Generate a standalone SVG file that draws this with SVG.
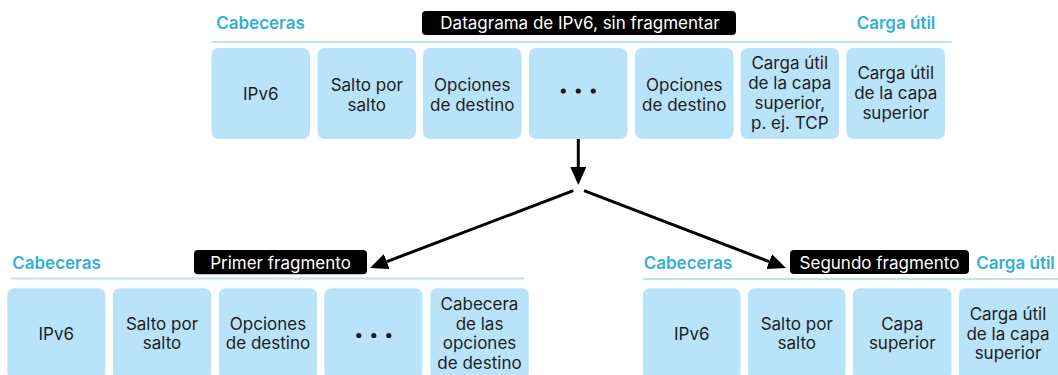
<svg xmlns="http://www.w3.org/2000/svg" width="1058" height="375" viewBox="0 0 1058 375">
<style>
.box{fill:#B9E3F9}
.rule{stroke:#B9E3F9;stroke-width:2;fill:none}
.t{font-family:Inter,"Liberation Sans",sans-serif;font-size:17px;fill:#1d1d1f;text-anchor:middle}
.hdr{font-family:Inter,"Liberation Sans",sans-serif;font-size:17px;font-weight:600;fill:#34AFD8;text-anchor:middle}
.lblbg{fill:#000}
.lbl{font-family:Inter,"Liberation Sans",sans-serif;font-size:17px;fill:#fff;text-anchor:middle}
.dot{fill:#1d1d1f}
.conn{stroke:#000;stroke-width:3;fill:none}
</style>
<defs>
<marker id="ah" markerUnits="userSpaceOnUse" viewBox="0 0 18 16" refX="0" refY="8" markerWidth="18" markerHeight="16" orient="auto">
<path d="M0,0 L18,8 L0,16 Z" fill="#000"/>
</marker>
</defs>

<g id="header-top">
<text class="hdr" x="260.5" y="29.3">Cabeceras</text>
<text class="hdr" x="896" y="29.3">Carga útil</text>
<line class="rule" x1="211" y1="42" x2="952" y2="42"/>
<rect class="lblbg" x="422" y="11" width="314" height="24" rx="4"/>
<text class="lbl" x="580" y="29.3">Datagrama de IPv6, sin fragmentar</text>
</g>

<g id="top-ipv6"><rect class="box" x="211.5" y="48" width="98.5" height="91" rx="7"/><text class="t" x="260.75" y="100">IPv6</text></g>
<g id="top-salto"><rect class="box" x="317.5" y="48" width="98.5" height="91" rx="7"/><text class="t" x="366.75" y="90.5">Salto por</text><text class="t" x="366.75" y="110.5">salto</text></g>
<g id="top-opciones1"><rect class="box" x="423" y="48" width="98.5" height="91" rx="7"/><text class="t" x="472.25" y="90.5">Opciones</text><text class="t" x="472.25" y="110.5">de destino</text></g>
<g id="top-dots"><rect class="box" x="529" y="48" width="98.5" height="91" rx="7"/><circle class="dot" cx="563.3" cy="91" r="2.6"/><circle class="dot" cx="578.3" cy="91" r="2.6"/><circle class="dot" cx="593.3" cy="91" r="2.6"/></g>
<g id="top-opciones2"><rect class="box" x="635" y="48" width="98.5" height="91" rx="7"/><text class="t" x="684.25" y="90.5">Opciones</text><text class="t" x="684.25" y="110.5">de destino</text></g>
<g id="top-carga-tcp"><rect class="box" x="740.5" y="48" width="98.5" height="91" rx="7"/><text class="t" x="789.75" y="68.5">Carga útil</text><text class="t" x="789.75" y="88.5">de la capa</text><text class="t" x="789.75" y="108.5">superior,</text><text class="t" x="789.75" y="128.5">p. ej. TCP</text></g>
<g id="top-carga"><rect class="box" x="846.5" y="48" width="98.5" height="91" rx="7"/><text class="t" x="895.75" y="79">Carga útil</text><text class="t" x="895.75" y="99">de la capa</text><text class="t" x="895.75" y="119">superior</text></g>

<g id="header-first">
<text class="hdr" x="56.5" y="269.3">Cabeceras</text>
<line class="rule" x1="11" y1="278.5" x2="524" y2="278.5"/>
<rect class="lblbg" x="194" y="250" width="173" height="24.3" rx="4"/>
<text class="lbl" x="280.5" y="268.5">Primer fragmento</text>
</g>

<g id="first-ipv6"><rect class="box" x="7.3" y="288.3" width="98" height="91" rx="7"/><text class="t" x="56.3" y="339.5">IPv6</text></g>
<g id="first-salto"><rect class="box" x="113" y="288.3" width="98" height="91" rx="7"/><text class="t" x="162" y="329.8">Salto por</text><text class="t" x="162" y="349.3">salto</text></g>
<g id="first-opciones"><rect class="box" x="219" y="288.3" width="98" height="91" rx="7"/><text class="t" x="268" y="329.8">Opciones</text><text class="t" x="268" y="349.3">de destino</text></g>
<g id="first-dots"><rect class="box" x="324.3" y="288.3" width="98" height="91" rx="7"/><circle class="dot" cx="358.8" cy="335.5" r="2.6"/><circle class="dot" cx="373.8" cy="335.5" r="2.6"/><circle class="dot" cx="388.8" cy="335.5" r="2.6"/></g>
<g id="first-cabecera"><rect class="box" x="430.3" y="288.3" width="98.5" height="91" rx="7"/><text class="t" x="479.5" y="310">Cabecera</text><text class="t" x="479.5" y="329.5">de las</text><text class="t" x="479.5" y="349">opciones</text><text class="t" x="479.5" y="368.5">de destino</text></g>

<g id="header-second">
<text class="hdr" x="688" y="269.3">Cabeceras</text>
<text class="hdr" x="1015.5" y="269.3">Carga útil</text>
<line class="rule" x1="643" y1="279" x2="1058" y2="279"/>
<rect class="lblbg" x="790" y="250" width="179" height="24" rx="4"/>
<text class="lbl" x="879.5" y="268.8">Segundo fragmento</text>
</g>

<g id="second-ipv6"><rect class="box" x="643" y="288.3" width="97.5" height="91" rx="7"/><text class="t" x="691.75" y="339.5">IPv6</text></g>
<g id="second-salto"><rect class="box" x="748" y="288.3" width="97.5" height="91" rx="7"/><text class="t" x="796.75" y="329.8">Salto por</text><text class="t" x="796.75" y="349.3">salto</text></g>
<g id="second-capa"><rect class="box" x="853" y="288.3" width="98.5" height="91" rx="7"/><text class="t" x="902.25" y="329.8">Capa</text><text class="t" x="902.25" y="349.3">superior</text></g>
<g id="second-carga"><rect class="box" x="959" y="288.3" width="110" height="91" rx="7"/><text class="t" x="1008" y="319.5">Carga útil</text><text class="t" x="1008" y="339.5">de la capa</text><text class="t" x="1008" y="359">superior</text></g>

<g id="connectors">
<line class="conn" x1="578.3" y1="139" x2="578.3" y2="167" marker-end="url(#ah)"/>
<line class="conn" x1="573.3" y1="190.7" x2="386.8" y2="261.6" marker-end="url(#ah)"/>
<line class="conn" x1="584" y1="190.7" x2="769.2" y2="261.6" marker-end="url(#ah)"/>
</g>
</svg>
